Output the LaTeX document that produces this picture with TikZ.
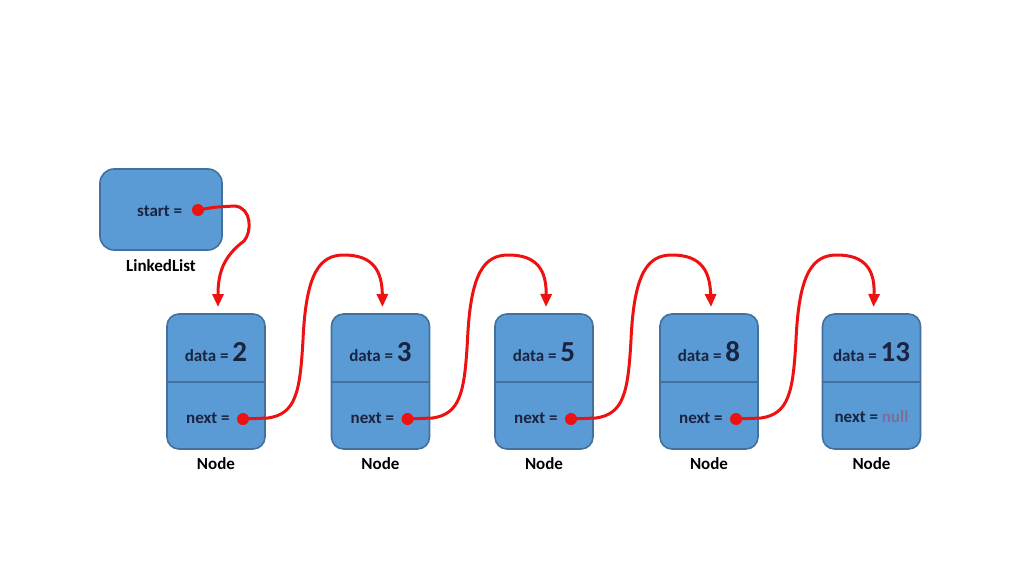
\documentclass[tikz,border=0pt]{standalone}
\usepackage{fontspec}
\setmainfont{Carlito}
\usetikzlibrary{arrows.meta}
\definecolor{boxfill}{HTML}{5B9BD5}
\definecolor{boxline}{HTML}{41719C}
\definecolor{txt}{HTML}{1A2440}
\definecolor{nullc}{HTML}{7B6F98}
\definecolor{linkred}{HTML}{EE1111}
\tikzset{
  listbox/.style={draw=boxline, fill=boxfill, line width=1.6pt, rounded corners=12pt, minimum width=98pt, minimum height=135pt, inner sep=0pt},
  headbox/.style={draw=boxline, fill=boxfill, line width=1.6pt, rounded corners=14pt, minimum width=122pt, minimum height=81pt, inner sep=0pt},
  lbl/.style={font=\fontsize{17}{19}\selectfont\bfseries, text=txt, inner sep=0pt},
  caption/.style={font=\fontsize{17}{19}\selectfont\bfseries, text=black, inner sep=0pt},
  link/.style={draw=linkred, line width=3pt, line cap=round, -{Triangle[length=13pt,width=11pt]}},
  dotmark/.style={circle, fill=linkred, inner sep=0pt, minimum size=12pt},
}
\newcommand{\bignum}[1]{{\fontsize{29}{30}\selectfont\bfseries #1}}
\begin{document}
\begin{tikzpicture}[x=1pt,y=-1pt]
\useasboundingbox (0,0) rectangle (1024,575);
\fill[white] (0,0) rectangle (1024,575);

% head
\node[headbox] (head) at (161,209.5) {};
\node[lbl, anchor=base west] (starttxt) at (137,216) {start =};
\node[caption] (llcap) at (161,266) {LinkedList};
\node[dotmark] (d0) at (198,210) {};

% nodes
\foreach \i/\x/\v in {1/216/2, 2/380.5/3, 3/544/5, 4/709/8, 5/871.5/13} {
  \node[listbox] (n\i) at (\x,381.5) {};
  \draw[boxline, line width=1.6pt] (n\i.west |- 0,382) -- (n\i.east |- 0,382);
  \node[lbl, anchor=base] (dt\i) at (\x,361) {data = \bignum{\v}};
  \node[caption] (cap\i) at (\x,464) {Node};
  \coordinate (t\i) at (\x+2,307);
}
\foreach \i/\x in {1/216, 2/380.5, 3/544, 4/709} {
  \node[lbl, anchor=base west] (nx\i) at (\x-30,423) {next =};
  \node[dotmark] (d\i) at (\x+27,419) {};
}
\node[lbl, anchor=base] (nx5) at (871.5,422) {next = \textcolor{nullc}{null}};

% links
\draw[link] (d0.center) .. controls (215,207) .. (235,206)
  .. controls (252,208) and (252,232) .. (244,241)
  .. controls (224,256) and (218,272) .. (t1);
\foreach \i/\j/\x in {1/2/216, 2/3/380.5, 3/4/544, 4/5/709} {
  \draw[link] (d\i.center) -- ++(25,-1)
    .. controls (\x+80,414) and (\x+84,392) .. (\x+87,340)
    .. controls (\x+90,272) and (\x+104,255) .. (\x+128,255)
    .. controls (\x+158,255) and (\x+166,272) .. (t\j);
}
\end{tikzpicture}
\end{document}
